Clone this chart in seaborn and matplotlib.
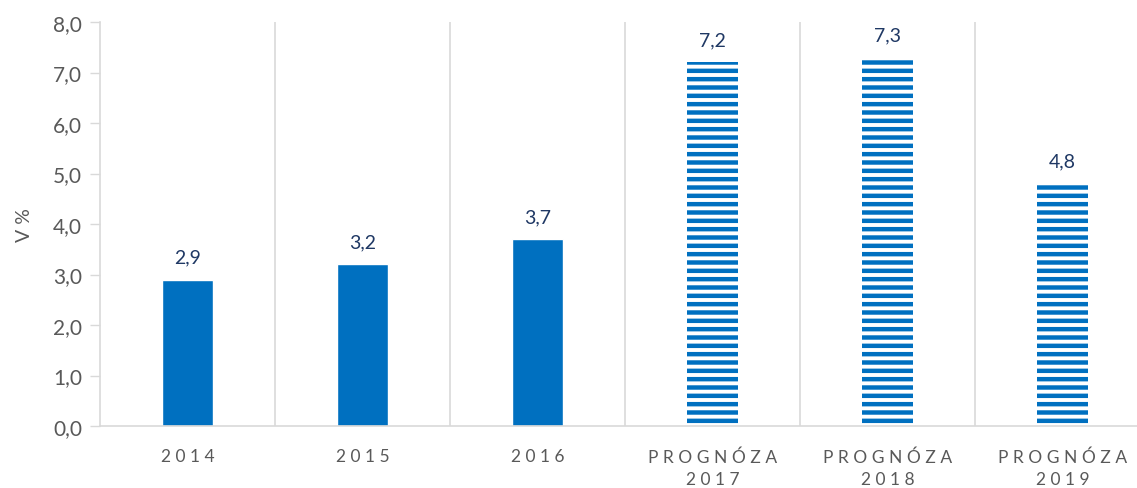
import matplotlib
matplotlib.use("Agg")
import matplotlib.pyplot as plt
import seaborn as sns

# data
categories = ["2 0 1 4", "2 0 1 5", "2 0 1 6",
              "P R O G N Ó Z A\n2 0 1 7", "P R O G N Ó Z A\n2 0 1 8", "P R O G N Ó Z A\n2 0 1 9"]
values = [2.9, 3.2, 3.7, 7.2, 7.3, 4.8]
forecast = [False, False, False, True, True, True]

blue = "#0070C0"
grid = "#D9D9D9"
txt = "#595959"

sns.set_theme(style="white")
plt.rcParams['font.family'] = ['Lato', 'DejaVu Sans']
plt.rcParams['hatch.linewidth'] = 3.2
plt.rcParams['hatch.color'] = blue

fig = plt.figure(figsize=(11.37, 4.89), dpi=100)
ax = fig.add_axes([100 / 1137, 62 / 489, 1050 / 1137, 404 / 489])

sns.barplot(x=categories, y=values, color=blue, saturation=1, width=0.29, ax=ax)

for p, f in zip(ax.patches, forecast):
    if f:
        p.set_facecolor("white")
        p.set_edgecolor(blue)
        p.set_linewidth(0)
        p.set_hatch("--")

ax.bar_label(ax.containers[0], labels=[f"{v:.1f}".replace(".", ",") for v in values],
             padding=10, color="#1F3864", fontsize=14)

ax.set_ylim(0, 8)
ax.set_xlim(-0.5, 5.5)
ax.set_yticks(range(0, 9))
ax.set_yticklabels([f"{v:.1f}".replace(".", ",") for v in range(0, 9)], fontsize=15, color=txt)
ax.tick_params(axis="y", left=True, length=7, width=1, color=grid, pad=6)
ax.tick_params(axis="x", bottom=False, labelcolor=txt, pad=10)
for t in ax.get_xticklabels():
    t.set_fontsize(12.5)
    t.set_linespacing(1.45)
ax.set_ylabel("V %", fontsize=14, color=txt, labelpad=14)
ax.set_xlabel("")

for b in [0.5, 1.5, 2.5, 3.5, 4.5]:
    ax.axvline(b, color=grid, lw=1.2, zorder=0)

for s in ["top", "right"]:
    ax.spines[s].set_visible(False)
for s in ["left", "bottom"]:
    ax.spines[s].set_color(grid)
    ax.spines[s].set_linewidth(1.2)

fig.savefig("out.png", dpi=100)
